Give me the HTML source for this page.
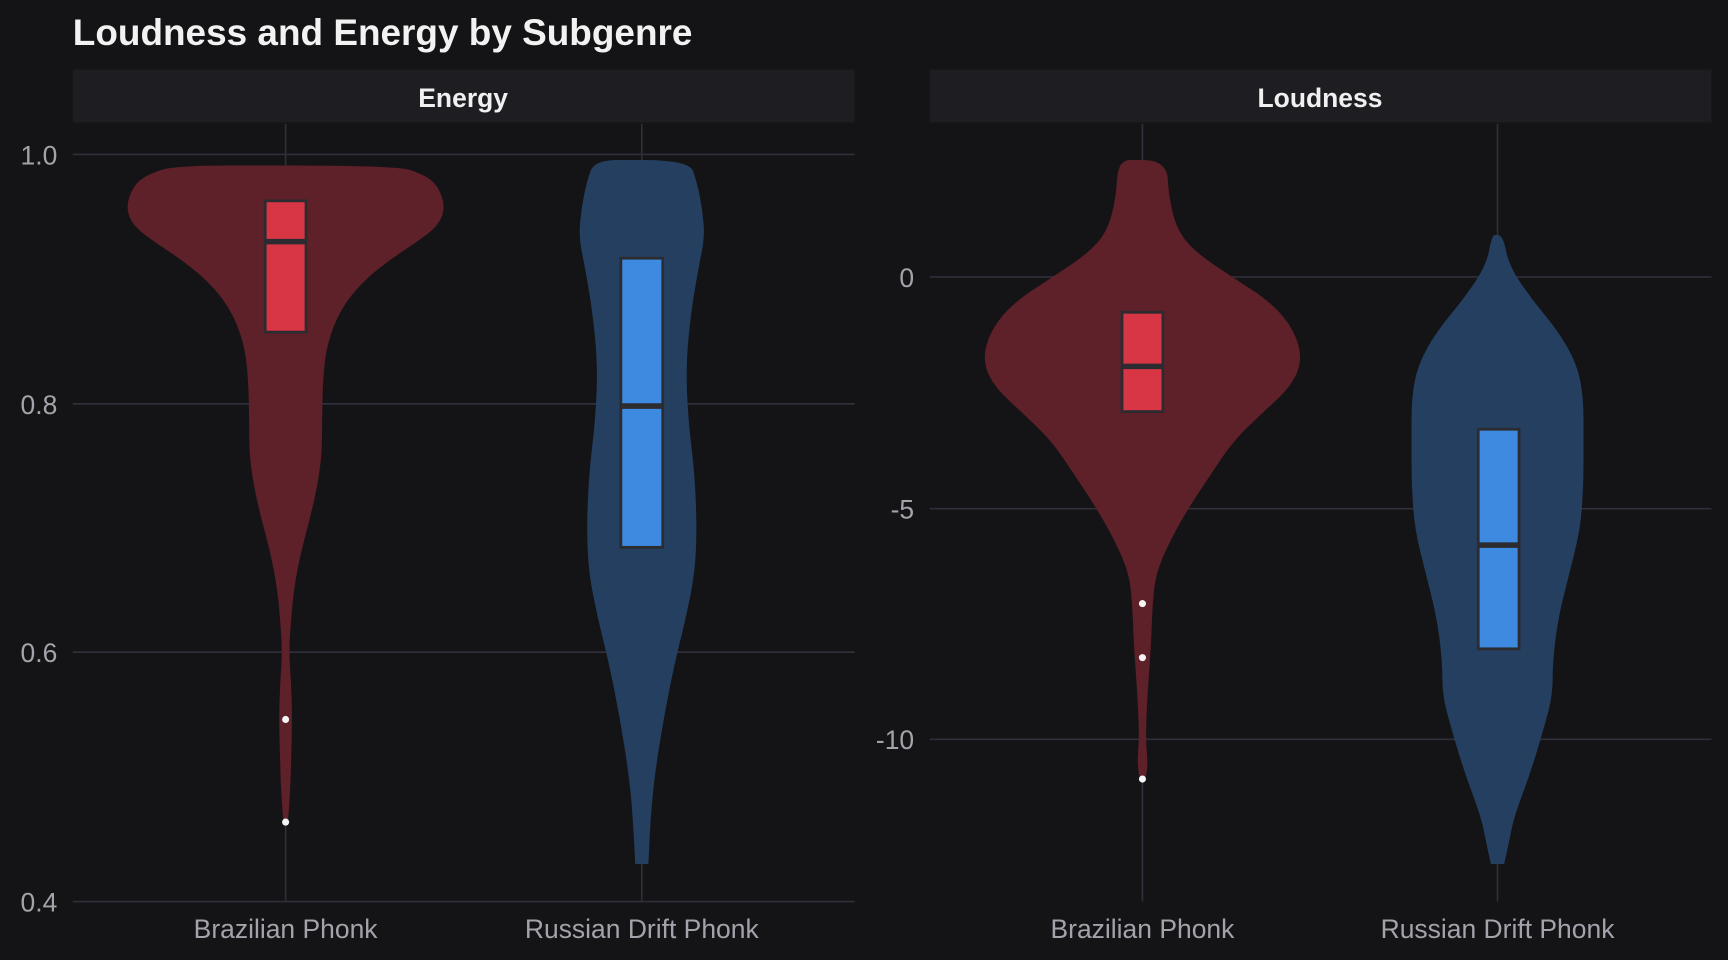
<!DOCTYPE html>
<html><head><meta charset="utf-8"><style>
html,body{margin:0;padding:0;background:#141416;}
svg{display:block;}
text{font-family:"Liberation Sans",sans-serif;}
</style></head><body>
<svg id="s" width="1728" height="960" viewBox="0 0 1567 870" preserveAspectRatio="none" xmlns="http://www.w3.org/2000/svg">
<rect width="1567" height="870" fill="#141416"/>
<text x="66" y="41" fill="#f2f2f2" font-size="33.5" font-weight="bold">Loudness and Energy by Subgenre</text>
<rect x="66" y="63" width="709" height="48" fill="#1d1d22"/>
<rect x="843" y="63" width="709" height="48" fill="#1d1d22"/>
<text x="420" y="97" fill="#f0f0f0" font-size="24" font-weight="bold" text-anchor="middle">Energy</text>
<text x="1197" y="97" fill="#f0f0f0" font-size="24" font-weight="bold" text-anchor="middle">Loudness</text>
<g stroke="#2e2f3a" stroke-width="1.5">
<line x1="66" x2="775" y1="140" y2="140"/><line x1="66" x2="775" y1="366" y2="366"/>
<line x1="66" x2="775" y1="591" y2="591"/><line x1="66" x2="775" y1="817" y2="817"/>
<line x1="259" x2="259" y1="112" y2="817"/><line x1="582" x2="582" y1="112" y2="817"/>
<line x1="843" x2="1552" y1="251" y2="251"/><line x1="843" x2="1552" y1="461" y2="461"/>
<line x1="843" x2="1552" y1="670" y2="670"/>
<line x1="1036" x2="1036" y1="112" y2="817"/><line x1="1358" x2="1358" y1="112" y2="817"/>
</g>
<g fill="#a3a3ab" font-size="24" text-anchor="end">
<text x="52" y="149">1.0</text><text x="52" y="375">0.8</text><text x="52" y="600">0.6</text><text x="52" y="826">0.4</text>
<text x="829" y="260">0</text><text x="829" y="470">-5</text><text x="829" y="679">-10</text>
</g>
<g fill="#a3a3ab" font-size="24" text-anchor="middle">
<text x="259" y="850">Brazilian Phonk</text><text x="582" y="850">Russian Drift Phonk</text>
<text x="1036" y="850">Brazilian Phonk</text><text x="1358" y="850">Russian Drift Phonk</text>
</g>
<g id="v"></g>
</svg>
<script>
var NS="http://www.w3.org/2000/svg",g=document.getElementById("v");
function el(t,a){var e=document.createElementNS(NS,t);for(var k in a)e.setAttribute(k,a[k]);g.appendChild(e);return e;}
function smooth(P){ // P array of [x,y]; quadratic midpoint smoothing
 var d="M"+P[0][0]+","+P[0][1];
 for(var i=1;i<P.length-1;i++){var mx=(P[i][0]+P[i+1][0])/2,my=(P[i][1]+P[i+1][1])/2;d+=" Q"+P[i][0]+","+P[i][1]+" "+mx+","+my;}
 d+=" L"+P[P.length-1][0]+","+P[P.length-1][1];return d;
}
function violin(cx,pts,fill){
 var r=[],l=[];
 for(var i=0;i<pts.length;i++){r.push([cx+pts[i][1],pts[i][0]]);l.push([cx-pts[i][1],pts[i][0]]);}
 l.reverse();
 var d=smooth(r)+" "+smooth(l).replace("M","L")+"Z";
 el("path",{d:d,fill:fill});
}
function box(cx,w,y1,y2,m,fill){
 el("rect",{x:cx-w/2,y:y1,width:w,height:y2-y1,fill:fill,stroke:"#2b2b30","stroke-width":2.5});
 el("line",{x1:cx-w/2,x2:cx+w/2,y1:m,y2:m,stroke:"#2b2b30","stroke-width":5});
}
function pt(x,y){el("circle",{cx:x,cy:y,r:3.2,fill:"#f4f4f4"});}
violin(259,[[150,0],[150,100],[158,125],[168,138],[188,145],[205,138],[220,118],[235,95],[255,70],[280,50],[310,38],[340,34],[380,33],[410,33],[440,29],[470,22],[500,14],[530,8],[560,5],[590,3],[620,5],[650,6],[690,5],[720,4],[746,2]],"#5e2029");
violin(582,[[145,0],[145,43],[165,50],[190,55],[215,57],[240,52],[280,45],[330,40],[380,42],[430,48],[480,50],[520,48],[560,40],[600,30],[650,20],[700,12],[740,8],[783,6]],"#253f60");
violin(1036,[[145,0],[145,22],[180,24],[210,32],[230,50],[250,80],[275,118],[300,138],[326,145],[350,135],[375,108],[400,82],[430,62],[460,42],[490,25],[520,12],[550,9],[580,8],[610,6],[640,4],[670,3],[695,5],[708,2]],"#5e2029");
violin(1358,[[213,0],[213,5],[240,10],[270,30],[300,55],[330,72],[360,78],[400,78],[440,78],[480,75],[520,65],[560,55],[600,50],[630,50],[660,42],[700,30],[740,15],[765,10],[783,6]],"#253f60");
box(259,37,182,301,219,"#d93645");
box(582,38,234,496,368,"#3d8ae0");
box(1036,37,283,373,332,"#d93645");
box(1359,37,389,588,494,"#3d8ae0");
pt(259,652);pt(259,745);pt(1036,547);pt(1036,596);pt(1036,706);
</script>
</body></html>
